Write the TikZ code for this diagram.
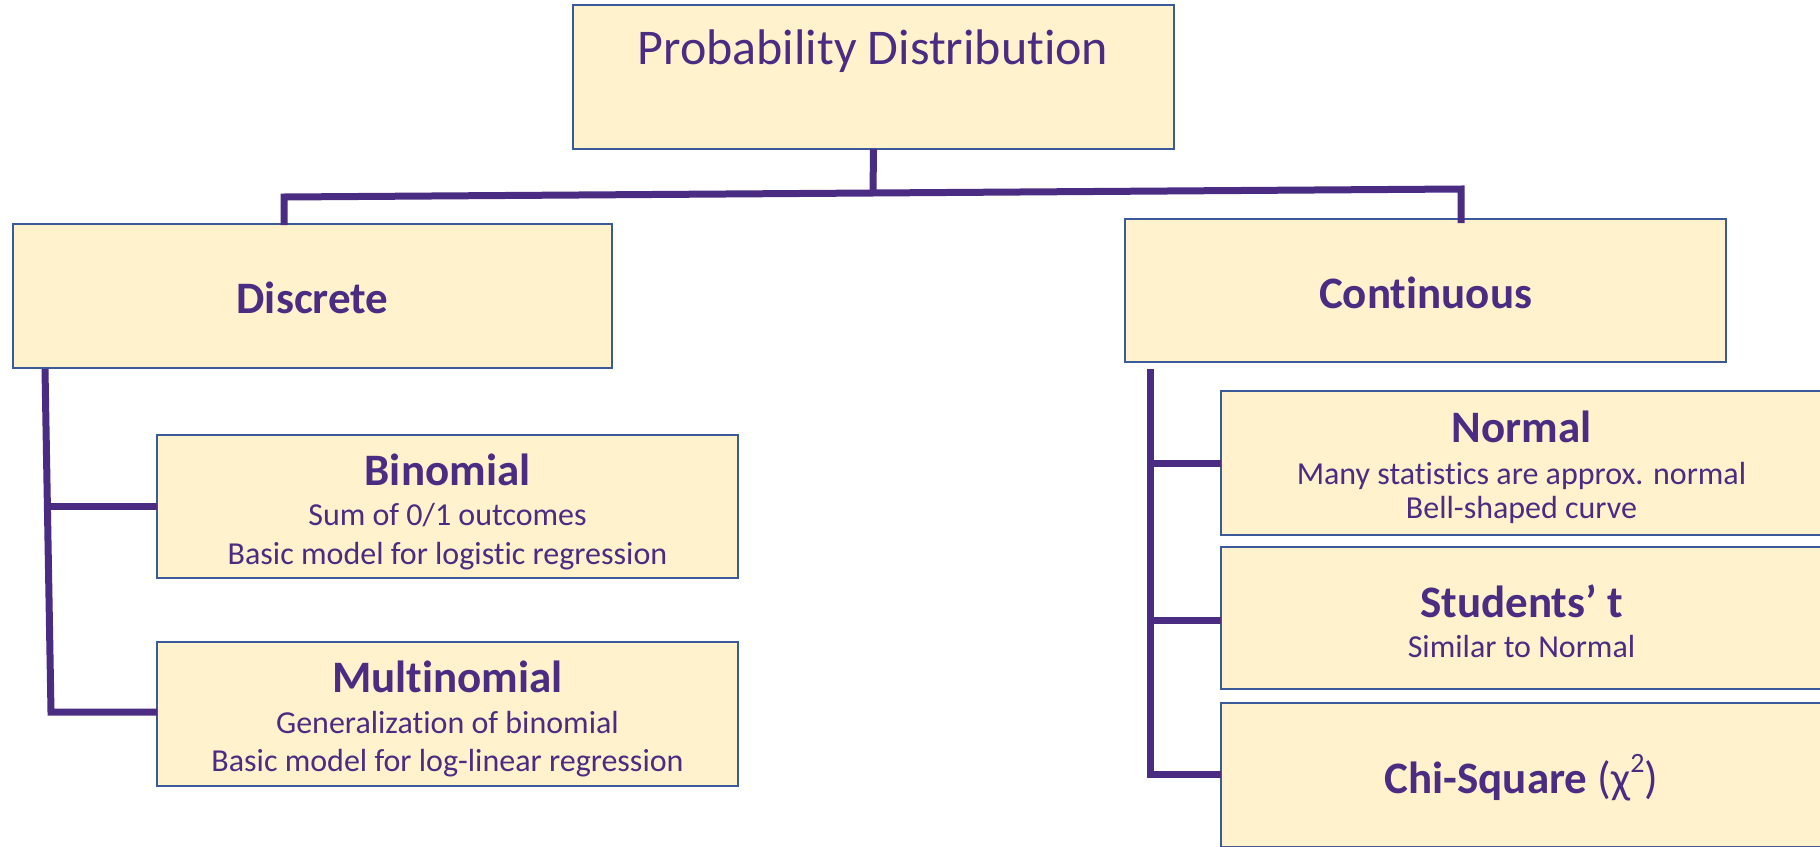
\documentclass[tikz,border=0pt]{standalone}
\usepackage{fontspec}
\setmainfont{Carlito}[Ligatures={NoCommon,NoContextual}]
\definecolor{txtc}{HTML}{4A2C82}
\definecolor{linec}{HTML}{4A2C82}
\definecolor{boxc}{HTML}{3A5A9A}
\definecolor{fillc}{HTML}{FFF2CC}
\newcommand\mytitle{\fontsize{50}{60}\selectfont}
\newcommand\myhead{\fontsize{45}{54}\selectfont\bfseries}
\newcommand\mysub{\fontsize{32}{38}\selectfont}
\tikzset{
  box/.style={draw=boxc, line width=2.5pt, fill=fillc, inner sep=0pt, outer sep=0pt},
  conn/.style={draw=linec, line width=7pt},
  txt/.style={text=txtc, anchor=base, inner sep=0pt}
}
\begin{document}
\begin{tikzpicture}[x=1pt,y=-1pt]
\useasboundingbox (0,0) rectangle (1820,846);
\clip (0,0) rectangle (1820,846);
% boxes
\node[box, minimum width=601, minimum height=144] (top) at (873.5,77) {};
\node[box, minimum width=599, minimum height=144] (disc) at (312.5,296) {};
\node[box, minimum width=601, minimum height=143] (cont) at (1425.5,290.5) {};
\node[box, minimum width=581, minimum height=143] (bin) at (447.5,506.5) {};
\node[box, minimum width=581, minimum height=144] (mul) at (447.5,714) {};
\node[box, minimum width=601, minimum height=144] (norm) at (1521.5,463) {};
\node[box, minimum width=601, minimum height=142] (stud) at (1521.5,618) {};
\node[box, minimum width=601, minimum height=144] (chi) at (1521.5,775) {};
% texts
\node[txt] (tTitle) at (873,64) {\mytitle Probability Distribution};
\node[txt] (tDisc) at (312.5,313) {\myhead Discrete};
\node[txt] (tCont) at (1425.5,308) {\myhead Continuous};
\node[txt] (tBin) at (447.5,485) {\myhead Binomial};
\node[txt] (tBin2) at (447.5,525) {\mysub Sum of 0/1 outcomes};
\node[txt] (tBin3) at (447.5,564) {\mysub Basic model for logistic regression};
\node[txt] (tMul) at (447.5,692) {\myhead Multinomial};
\node[txt] (tMul2) at (447.5,733) {\mysub Generalization of binomial};
\node[txt] (tMul3) at (447.5,771) {\mysub Basic model for log-linear regression};
\node[txt] (tNorm) at (1521.5,442) {\myhead Normal};
\node[txt] (tNorm2) at (1521.5,484) {\mysub Many statistics are approx. normal};
\node[txt] (tNorm3) at (1521.5,518) {\mysub Bell-shaped curve};
\node[txt] (tStud) at (1521.5,617) {\myhead Students’ t};
\node[txt] (tStud2) at (1521.5,657) {\mysub Similar to Normal};
\node[txt] (tChi) at (1521.5,793) {\myhead Chi-Square {\mdseries(χ\raisebox{0.45em}{\fontsize{28}{30}\selectfont 2})}};
% connectors top level
\coordinate (bl) at (284,197);
\coordinate (br) at (1461,189);
\coordinate (bm) at (873,193);
\draw[conn] (top.south) -- (bm);
\draw[conn, line join=miter] ([yshift=-1]bl |- disc.north) -- (bl) -- (br) -- ([yshift=-4]br |- cont.north);
% discrete branch
\coordinate (ltop) at (45,369);
\coordinate (lbot) at (51,712);
\coordinate (lmid) at (48,506);
\draw[conn, line join=miter] (ltop) -- (lbot) -- (lbot -| mul.west);
\draw[conn] (lmid) -- (lmid -| bin.west);
% continuous branch
\coordinate (rtop) at (1150,369);
\coordinate (rbot) at (1150,774);
\draw[conn, line join=miter] (rtop) -- (rbot) -- (rbot -| chi.west);
\draw[conn] (rtop |- norm.west) -- (norm.west);
\draw[conn] ([yshift=-2]rtop |- stud.west) -- ([yshift=-2]stud.west);
\end{tikzpicture}
\end{document}
